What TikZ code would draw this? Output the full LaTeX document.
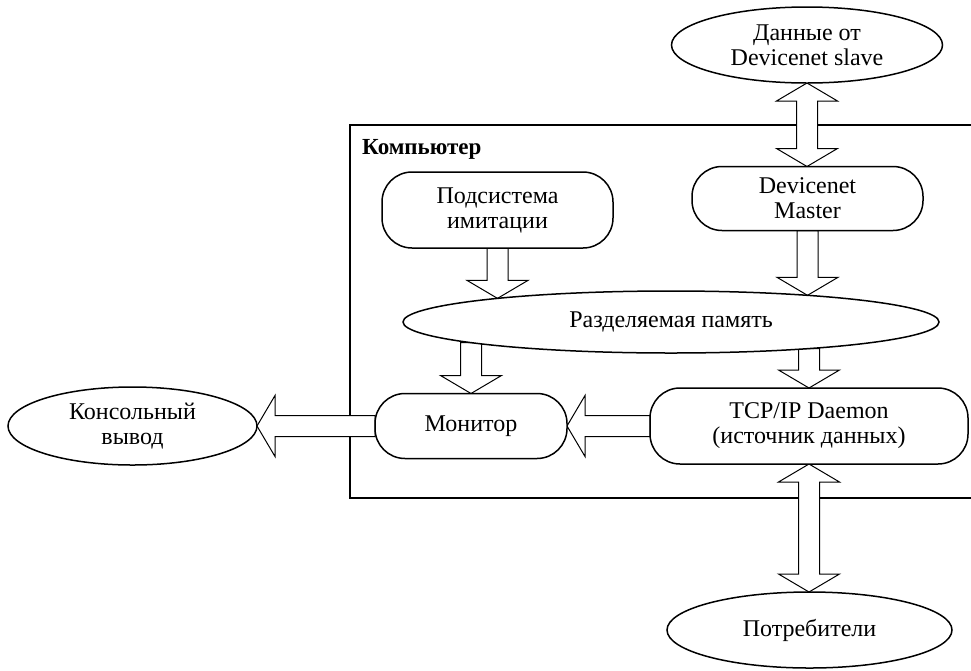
\documentclass[tikz,border=0pt]{standalone}
\usepackage{fontspec}
\setmainfont{Liberation Serif}
\usetikzlibrary{shapes.geometric,calc,backgrounds}
\newcommand\aw{10.5pt}
\newcommand\aW{30.5pt}
\newcommand\ah{18pt}
\newcommand\blockarrow[2]{%
  \coordinate (ba-h) at ($(#2)!\ah!(#1)$);
  \draw[arrowline] ($(#1)!\aw!90:(#2)$) -- ($(ba-h)!\aw!90:(#2)$) -- ($(ba-h)!\aW!90:(#2)$) -- (#2)
    -- ($(ba-h)!\aW!-90:(#2)$) -- ($(ba-h)!\aw!-90:(#2)$) -- ($(#1)!\aw!-90:(#2)$) -- cycle;}
\newcommand\dblockarrow[2]{%
  \coordinate (ba-h) at ($(#2)!\ah!(#1)$);
  \coordinate (ba-g) at ($(#1)!\ah!(#2)$);
  \draw[arrowline] (#1) -- ($(ba-g)!\aW!90:(#2)$) -- ($(ba-g)!\aw!90:(#2)$) -- ($(ba-h)!\aw!90:(#2)$) -- ($(ba-h)!\aW!90:(#2)$) -- (#2)
    -- ($(ba-h)!\aW!-90:(#2)$) -- ($(ba-h)!\aw!-90:(#2)$) -- ($(ba-g)!\aw!-90:(#2)$) -- ($(ba-g)!\aW!-90:(#2)$) -- cycle;}
\tikzset{
  txt/.style={font=\fontsize{24}{25}\selectfont, align=center, inner sep=0pt, outer sep=0pt},
  ellnode/.style={txt, ellipse, draw, line width=1.5pt, fill=white},
  rnode/.style={txt, rectangle, rounded corners=30pt, draw, line width=1.5pt, fill=white},
  arrowline/.style={draw, line width=1pt, fill=white, line join=miter},
  boxline/.style={line width=1.3pt}
}
\begin{document}
\begin{tikzpicture}[x=1pt,y=-1pt]
\useasboundingbox (0,0) rectangle (971,670);
\node[ellnode, minimum width=271pt, minimum height=76pt] (data) at (807,45) {Данные от\\Devicenet slave};
\node[rnode, minimum width=231pt, minimum height=76pt] (sub) at (497.5,210) {Подсистема\\имитации};
\node[rnode, minimum width=231pt, minimum height=64pt] (dm) at (807.5,198.5) {Devicenet\\Master};
\node[ellnode, minimum width=536pt, minimum height=62pt] (mem) at (671,322) {Разделяемая память};
\node[rnode, minimum width=192pt, minimum height=65pt] (mon) at (471,426) {Монитор};
\node[rnode, minimum width=318pt, minimum height=76pt] (tcp) at (809,426) {TCP/IP Daemon\\(источник данных)};
\node[ellnode, minimum width=249pt, minimum height=78pt] (con) at (132.5,426) {Консольный\\вывод};
\node[ellnode, minimum width=285pt, minimum height=76pt] (cons) at (809.5,630) {Потребители};
\node[anchor=base west, inner sep=0pt, font=\fontsize{23}{24}\selectfont\bfseries] (lbl) at (362,154) {Компьютер};
\coordinate (boxtl) at (350,125);
\coordinate (boxbr) at (990,498);
\coordinate (t1) at (data.south |- dm.north);
\coordinate (t2) at (tcp.south |- cons.north);
\coordinate (m1) at ($(mem.center)+(-173.5,-23.63)$);
\coordinate (m2) at ($(mem.center)+(136.5,-26.68)$);
\coordinate (m3) at ($(mem.center)+(-200,20.64)$);
\coordinate (m4) at ($(mem.center)+(138,26.58)$);
\begin{pgfonlayer}{background}
\draw[boxline] (boxtl) rectangle (boxbr);
\dblockarrow{data.south}{t1}
\blockarrow{sub.south}{m1}
\blockarrow{dm.south}{m2}
\blockarrow{m3}{mon.north}
\blockarrow{m4}{tcp.north}
\blockarrow{tcp.west}{mon.east}
\blockarrow{mon.west}{con.east}
\dblockarrow{tcp.south}{t2}
\end{pgfonlayer}
\end{tikzpicture}
\end{document}
